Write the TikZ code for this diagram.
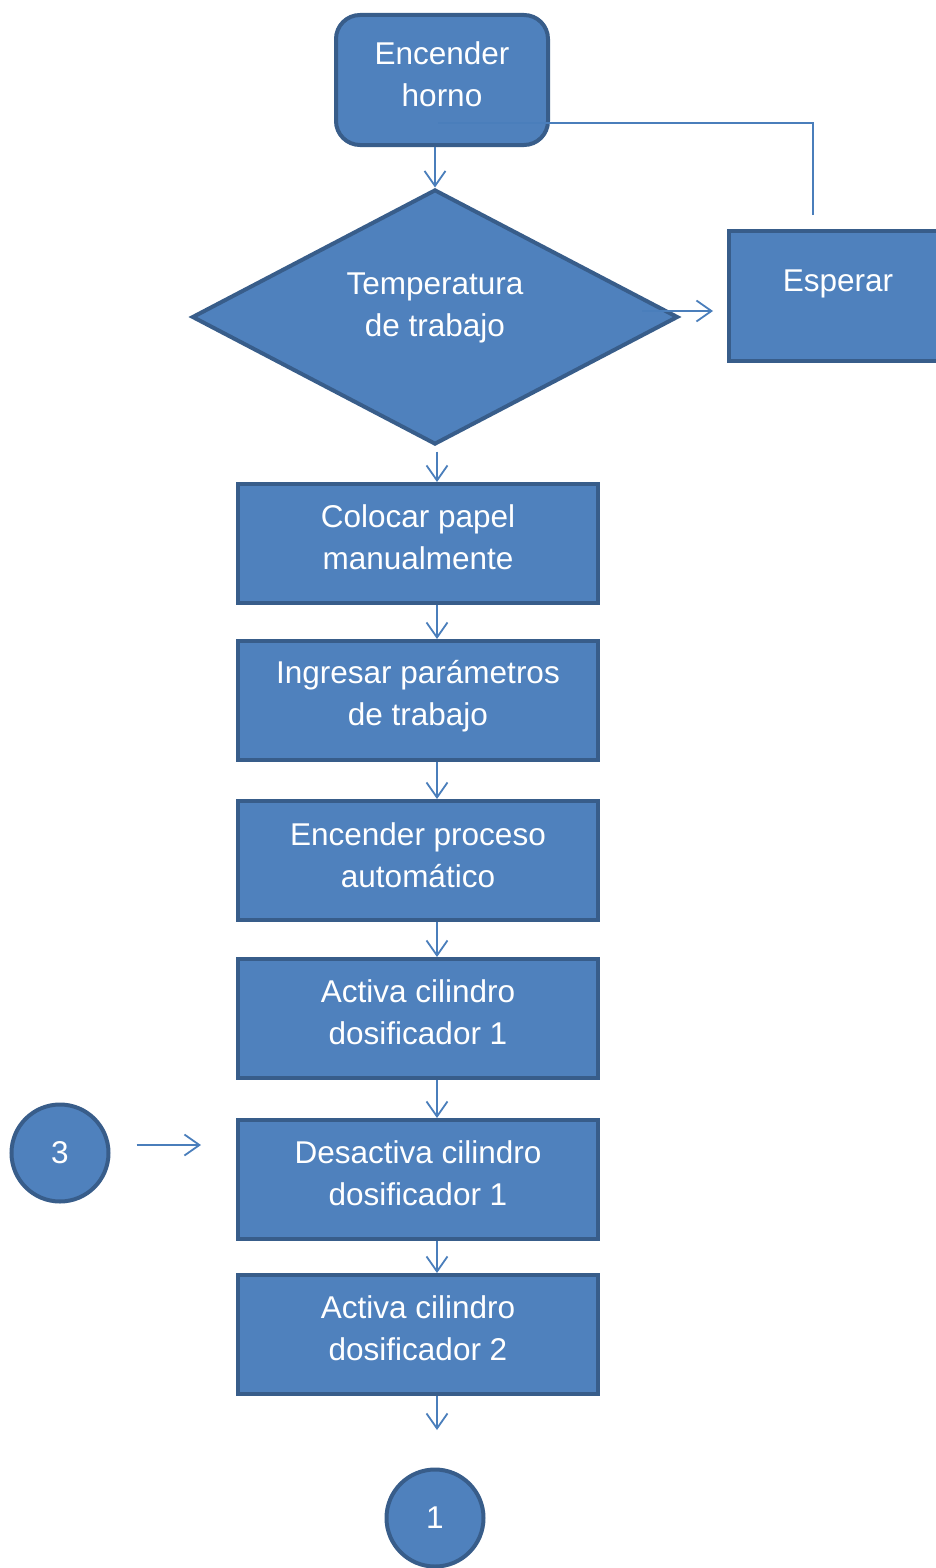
\documentclass[tikz,border=0pt]{standalone}
\usepackage{fontspec}
\setmainfont{Liberation Sans}
\usetikzlibrary{shapes.geometric,arrows.meta,calc}
\definecolor{boxfill}{HTML}{4F81BD}
\definecolor{boxline}{HTML}{385D8A}
\definecolor{arrcol}{HTML}{4A7EBB}
\begin{document}
\begin{tikzpicture}[x=1pt,y=-1pt,
  shape base/.style={fill=boxfill, draw=boxline, line width=4pt, inner sep=0pt},
  txt/.style={font=\fontsize{31.5}{42}\selectfont, text=white, align=center, inner sep=0pt},
  procbox/.style={shape base, rectangle, minimum width=360pt, minimum height=119pt},
  startbox/.style={shape base, rectangle, rounded corners=24pt, minimum width=212pt, minimum height=130pt},
  waitbox/.style={shape base, rectangle, minimum width=218pt, minimum height=130pt},
  decbox/.style={shape base, diamond, aspect=1.9, minimum width=486pt, minimum height=255pt},
  connbox/.style={shape base, circle, minimum size=97pt},
  arr/.style={draw=arrcol, line width=1.8pt, -{Straight Barb[length=15pt,width=21pt,line width=1.8pt]}},
  conn/.style={draw=arrcol, line width=1.6pt}
]
\useasboundingbox (0,0) rectangle (936,1568);
% shapes
\node[startbox] (horno) at (442,80) {};
\node[decbox] (dia) at (435,317) {};
\node[waitbox] (esp) at (838,296) {};
\node[procbox] (c1) at (418,543.5) {};
\node[procbox] (c2) at (418,700.5) {};
\node[procbox] (c3) at (418,860.5) {};
\node[procbox] (c4) at (418,1018.5) {};
\node[procbox] (c5) at (418,1179.5) {};
\node[procbox] (c6) at (418,1334.5) {};
\node[connbox] (three) at (60,1153) {};
\node[connbox] (one) at (435,1518) {};
% texts
\node[txt] (thorno) at ([yshift=6pt]horno.center) {Encender\\horno};
\node[txt] (tdia) at ([yshift=9pt]dia.center) {Temperatura\\de trabajo};
\node[txt] (tesp) at ([yshift=12pt]esp.center) {Esperar};
\node[txt] (tc1) at ([yshift=6pt]c1.center) {Colocar papel\\manualmente};
\node[txt] (tc2) at ([yshift=4pt]c2.center) {Ingresar parámetros\\de trabajo};
\node[txt] (tc3) at ([yshift=5pt]c3.center) {Encender proceso\\automático};
\node[txt] (tc4) at ([yshift=6pt]c4.center) {Activa cilindro\\dosificador 1};
\node[txt] (tc5) at ([yshift=6pt]c5.center) {Desactiva cilindro\\dosificador 1};
\node[txt] (tc6) at ([yshift=6pt]c6.center) {Activa cilindro\\dosificador 2};
\node[txt] (tthree) at (three.center) {3};
\node[txt] (tone) at (one.center) {1};
% connectors
\draw[arr] (dia.north |- horno.south) -- (dia.north);
\draw[conn] ([xshift=-25pt,yshift=14pt]esp.north) |- ([xshift=-4pt,yshift=-43pt]horno.center);
\coordinate (d1) at ([xshift=-38pt,yshift=6pt]dia.east);
\draw[arr] (d1) -- ([xshift=-14pt]esp.west |- d1);
\draw[arr] ([xshift=2pt,yshift=-5pt]dia.south) -- ([xshift=2pt]dia.south |- c1.north);
\draw[arr] ([xshift=19pt]c1.south) -- ([xshift=19pt]c2.north);
\draw[arr] ([xshift=19pt]c2.south) -- ([xshift=19pt]c3.north);
\draw[arr] ([xshift=19pt]c3.south) -- ([xshift=19pt]c4.north);
\draw[arr] ([xshift=19pt]c4.south) -- ([xshift=19pt]c5.north);
\draw[arr] ([xshift=19pt]c5.south) -- ([xshift=19pt]c6.north);
\coordinate (e6) at ([xshift=19pt,yshift=-34pt]c6.south);
\draw[arr] ([xshift=19pt]c6.south) -- (e6);
\coordinate (s3) at ([xshift=26pt,yshift=8pt]three.east);
\draw[arr] (s3) -- ([xshift=-35pt]c5.west |- s3);
\end{tikzpicture}
\end{document}
